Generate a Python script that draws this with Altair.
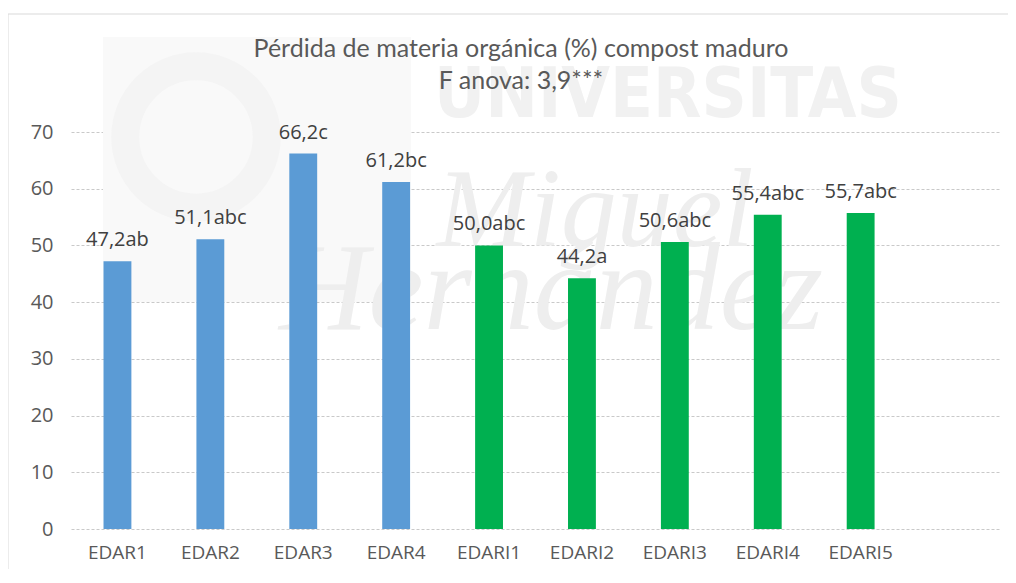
import altair as alt
import pandas as pd

categories = ["EDAR1", "EDAR2", "EDAR3", "EDAR4", "EDARI1", "EDARI2", "EDARI3", "EDARI4", "EDARI5"]
values = [47.2, 51.1, 66.2, 61.2, 50.0, 44.2, 50.6, 55.4, 55.7]
letters = ["ab", "abc", "c", "bc", "abc", "a", "abc", "abc", "abc"]
groups = ["EDAR", "EDAR", "EDAR", "EDAR", "EDARI", "EDARI", "EDARI", "EDARI", "EDARI"]
y_ticks = [0, 10, 20, 30, 40, 50, 60, 70]
title_lines = ["Pérdida de materia orgánica (%) compost maduro", "F anova: 3,9***"]

df = pd.DataFrame({
    "cat": categories,
    "val": values,
    "grp": groups,
    "lab": [f"{v:.1f}".replace(".", ",") + l for v, l in zip(values, letters)],
})

FONT = "Open Sans"
x_domain = categories + [" "]

x_enc = alt.X("cat:N", sort=None,
              scale=alt.Scale(domain=x_domain, paddingInner=0.7, paddingOuter=0.35),
              axis=alt.Axis(title=None, labelAngle=0, ticks=False, domain=False,
                            labelPadding=14, labelFontSize=19, labelColor="#595959",
                            labelFont=FONT))
y_enc = alt.Y("val:Q", scale=alt.Scale(domain=[0, 70], nice=False),
              axis=alt.Axis(title=None, values=y_ticks, ticks=False, domain=False,
                            labelPadding=18, labelFontSize=20, labelColor="#595959",
                            labelFont=FONT, grid=True, gridColor="#c9c9c9",
                            gridDash=[3, 2], gridWidth=1))

base = alt.Chart(df)

bars = base.mark_bar().encode(
    x=x_enc, y=y_enc,
    color=alt.Color("grp:N", scale=alt.Scale(domain=["EDAR", "EDARI"],
                                             range=["#5B9BD5", "#00B050"]), legend=None),
)

labels = base.mark_text(baseline="alphabetic", dy=-15, fontSize=20, color="#404040",
                        font=FONT).encode(x=alt.X("cat:N", sort=None), y="val:Q", text="lab:N")

one = pd.DataFrame({"k": [0]})
wm_color = "#f1f1f1"
wm_logo_rect = alt.Chart(one).mark_rect(color="#f9f9f9").encode(
    x=alt.value(32), x2=alt.value(340), y=alt.value(-95), y2=alt.value(170))
wm_ring = alt.Chart(one).mark_point(shape="circle", filled=False, size=20000,
                                    stroke="#f4f4f4", strokeWidth=28, opacity=1).encode(
    x=alt.value(125), y=alt.value(5))
wm1 = alt.Chart(one).mark_text(font="DejaVu Sans Condensed", fontWeight="bold", fontSize=70,
                               color=wm_color, baseline="middle", align="center").encode(
    x=alt.value(597), y=alt.value(-36), text=alt.value("UNIVERSITAS"))
wm2 = alt.Chart(one).mark_text(font="Liberation Serif", fontStyle="italic", fontSize=112,
                               color="#eeeeee", baseline="middle", align="center").encode(
    x=alt.value(524), y=alt.value(80), text=alt.value("Miguel"))
wm3 = alt.Chart(one).mark_text(font="Liberation Serif", fontStyle="italic", fontSize=124,
                               color="#eeeeee", baseline="middle", align="center").encode(
    x=alt.value(480), y=alt.value(160), text=alt.value("Hernández"))

border = alt.Chart(one).mark_rect(fill=None, stroke="#d9d9d9", strokeWidth=1).encode(
    x=alt.value(-63), x2=alt.value(960), y=alt.value(-118), y2=alt.value(470))

t1 = alt.Chart(one).mark_text(font="Lato", fontSize=25, color="#595959", baseline="middle",
                              align="center").encode(
    x=alt.value(450), y=alt.value(-83), text=alt.value(title_lines[0]))
t2 = alt.Chart(one).mark_text(font="Lato", fontSize=25, color="#595959", baseline="middle",
                              align="center").encode(
    x=alt.value(450), y=alt.value(-51), text=alt.value(title_lines[1]))

chart = alt.layer(border, wm_logo_rect, wm_ring, wm1, wm2, wm3,
                  bars, labels, t1, t2).properties(
    width=929, height=397,
    autosize=alt.AutoSizeParams(type="none"),
    padding={"left": 63, "top": 124, "right": 8, "bottom": 40},
    background="white",
).configure_view(stroke=None)

chart.save("out.html", embed_options={"renderer": "svg", "actions": False})
